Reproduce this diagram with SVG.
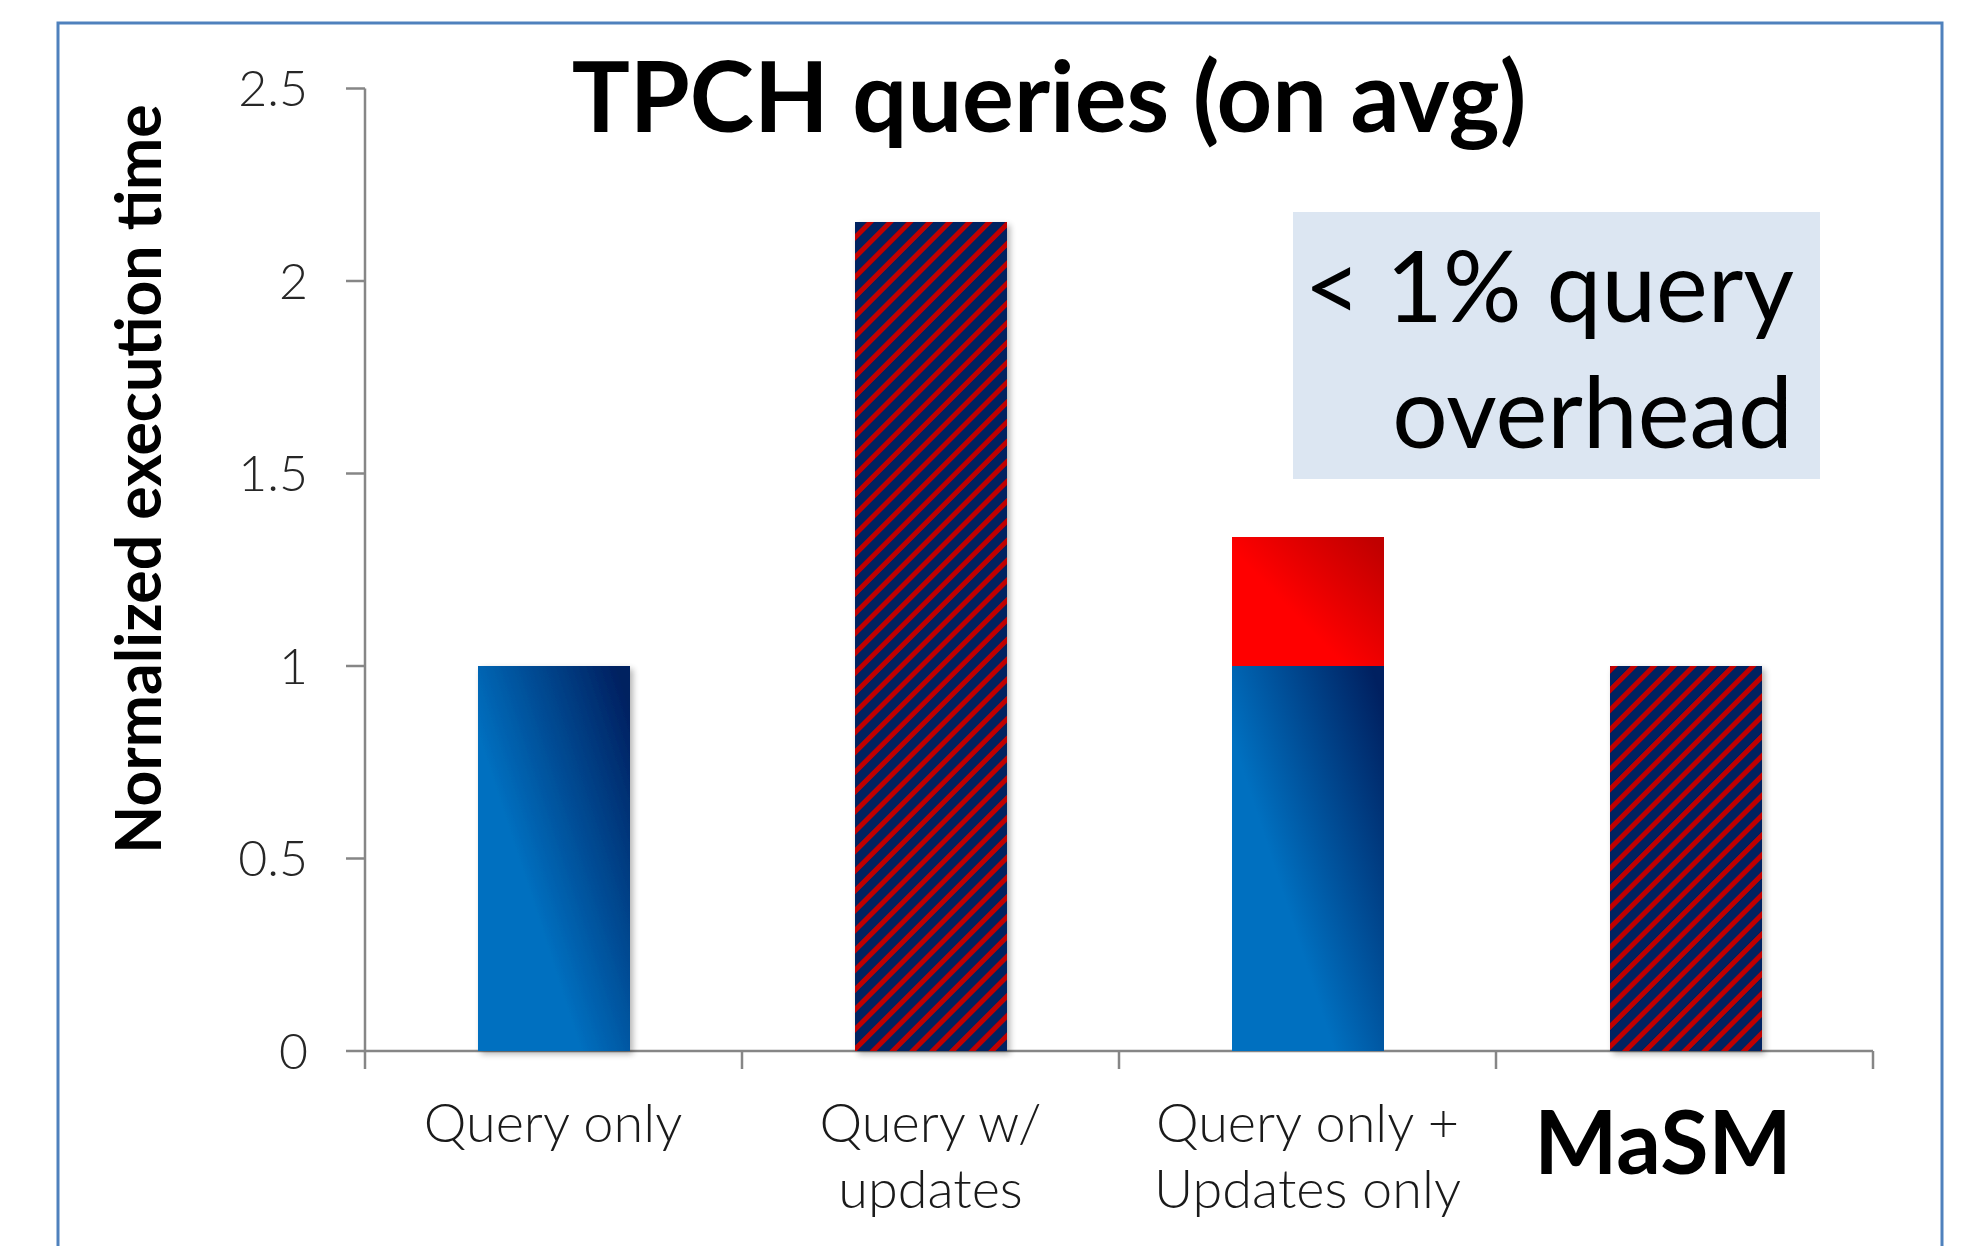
<svg xmlns="http://www.w3.org/2000/svg" width="1965" height="1246" viewBox="0 0 1965 1246">
<style>
.axis{stroke:#868686;stroke-width:2.5;fill:none}
.tick{font-family:Lato,"Liberation Sans",sans-serif;font-weight:300;font-size:50px;fill:#262626;text-anchor:end}
.xl{font-family:Lato,"Liberation Sans",sans-serif;font-weight:300;font-size:54px;fill:#1a1a1a;text-anchor:middle}
.title{font-family:Lato,"Liberation Sans",sans-serif;font-weight:700;font-size:97px;fill:#000;text-anchor:middle}
.ylab{font-family:Lato,"Liberation Sans",sans-serif;font-weight:700;font-size:62.5px;fill:#000;text-anchor:middle}
.note{font-family:Lato,"Liberation Sans",sans-serif;font-weight:400;font-size:98px;fill:#000;text-anchor:end}
.masm{font-family:Lato,"Liberation Sans",sans-serif;font-weight:700;font-size:88px;fill:#000;text-anchor:middle}
.bar{filter:url(#sh)}
</style>
<defs>
<linearGradient id="gBlue" x1="0.15" y1="0.8" x2="1" y2="0.1">
<stop offset="0.25" stop-color="#0070C0"/>
<stop offset="1" stop-color="#002060"/>
</linearGradient>
<linearGradient id="gRed" x1="0.15" y1="0.8" x2="1" y2="0.1">
<stop offset="0.3" stop-color="#FF0000"/>
<stop offset="1" stop-color="#C00000"/>
</linearGradient>
<pattern id="hatch" patternUnits="userSpaceOnUse" width="14" height="14" patternTransform="rotate(45)">
<rect width="14" height="14" fill="#002060"/>
<rect x="0" y="0" width="5" height="14" fill="#C00000"/>
</pattern>
<filter id="sh" x="-10%" y="-10%" width="130%" height="130%">
<feGaussianBlur in="SourceAlpha" stdDeviation="3"/>
<feOffset dx="3" dy="3" result="b"/>
<feComponentTransfer><feFuncA type="linear" slope="0.3"/></feComponentTransfer>
<feMerge><feMergeNode/><feMergeNode in="SourceGraphic"/></feMerge>
</filter>
</defs>
<rect x="0" y="0" width="1965" height="1246" fill="#fff"/>
<g id="frame">
<rect x="58" y="23" width="1884" height="1260" fill="none" stroke="#4F81BD" stroke-width="3"/>
</g>
<g id="title"><text class="title" x="1049" y="132">TPCH queries (on avg)</text></g>
<g id="y-label"><text class="ylab" transform="translate(161,479) rotate(-90)">Normalized execution time</text></g>
<g id="axes">
<path class="axis" d="M365 88.5V1051H1873"/>
<path class="axis" d="M346 88.5H365M346 281H365M346 473.5H365M346 666H365M346 858.5H365M346 1051H365"/>
<path class="axis" d="M365 1051V1069M742 1051V1069M1119 1051V1069M1496 1051V1069M1873 1051V1069"/>
<text class="tick" x="308" y="106">2.5</text>
<text class="tick" x="308" y="299">2</text>
<text class="tick" x="308" y="491">1.5</text>
<text class="tick" x="308" y="684">1</text>
<text class="tick" x="308" y="876">0.5</text>
<text class="tick" x="308" y="1069">0</text>
</g>
<g id="bar-query-only"><rect class="bar" x="478" y="666" width="152" height="385" fill="url(#gBlue)"/></g>
<g id="bar-query-updates"><rect class="bar" x="855" y="222" width="152" height="829" fill="url(#hatch)"/></g>
<g id="bar-stacked">
<rect class="bar" x="1232" y="537" width="152" height="514" fill="none"/>
<rect x="1232" y="666" width="152" height="385" fill="url(#gBlue)"/>
<rect x="1232" y="537" width="152" height="129" fill="url(#gRed)"/>
</g>
<g id="bar-masm"><rect class="bar" x="1610" y="666" width="152" height="385" fill="url(#hatch)"/></g>
<g id="note">
<rect x="1293" y="212" width="527" height="267" fill="#DCE6F2"/>
<text class="note" x="1794" y="322">&lt; 1% query</text>
<text class="note" x="1793" y="448">overhead</text>
</g>
<g id="x-labels">
<text class="xl" x="553" y="1142">Query only</text>
<text class="xl" x="930.5" y="1142">Query w/</text>
<text class="xl" x="930.5" y="1208">updates</text>
<text class="xl" x="1307.5" y="1142">Query only +</text>
<text class="xl" x="1307.5" y="1208">Updates only</text>
<text class="masm" x="1663" y="1174">MaSM</text>
</g>
<g id="connectors"/>
</svg>
